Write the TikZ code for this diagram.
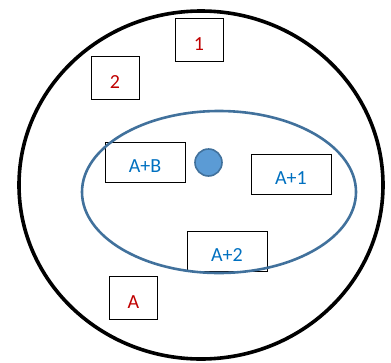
\documentclass[tikz,border=0pt]{standalone}
\usepackage{fontspec}
\setmainfont{Carlito}
\usepackage{tikz}
\usetikzlibrary{positioning}
\definecolor{ringblue}{HTML}{41719C}
\definecolor{dotblue}{HTML}{5B9BD5}
\definecolor{labelred}{HTML}{C00000}
\definecolor{labelblue}{HTML}{0070C0}

\begin{document}
\begin{tikzpicture}[x=1pt,y=-1pt,
    box/.style={draw=black,line width=0.9pt,inner sep=0pt,
      text height=21pt,text depth=0pt,font=\fontsize{20}{22}\selectfont},
    wide/.style={box,minimum width=80pt,minimum height=40pt,text=labelblue},
    small/.style={box,minimum width=48pt,minimum height=43pt,text=labelred}]
  \useasboundingbox (0,0) rectangle (391,362);
  % outer ring
  \draw[black,line width=3.6pt] (201,185) ellipse [x radius=182,y radius=174];
  % boxes
  \foreach \nm/\x/\y/\txt/\sty in {%
    one/199/39.5/1/small,
    two/115/77.5/2/small,
    aa/133.5/297.5/A/small,
    ab/145/162/A+B/wide,
    aone/291/174/A+1/wide,
    atwo/227/251/A+2/wide%
  }{
    \node[\sty] (\nm) at (\x,\y) {\txt};
  }
  % inner ring and dot
  \draw[ringblue,line width=2.6pt] (219,192) ellipse [x radius=137,y radius=81];
  \node[circle,draw=ringblue,fill=dotblue,line width=1.6pt,minimum size=27pt,inner sep=0pt] (dot) at (208.5,162.5) {};
\end{tikzpicture}
\end{document}
